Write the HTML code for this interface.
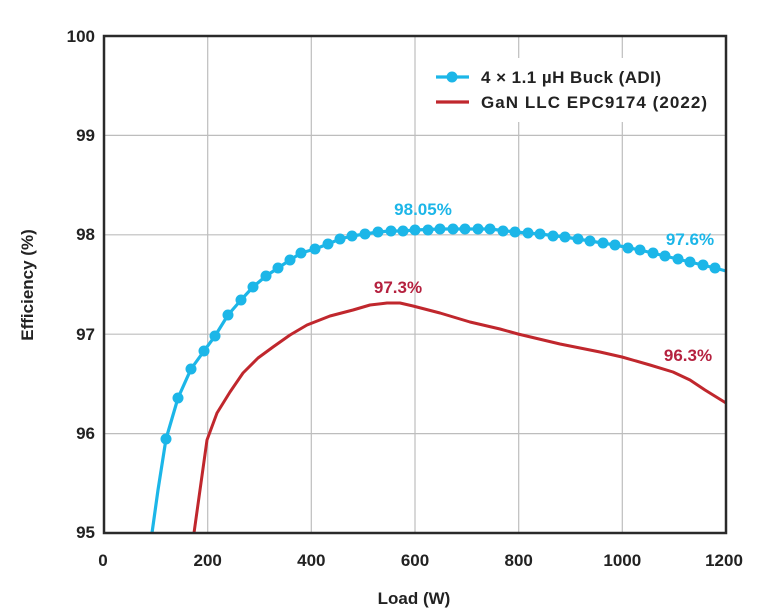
<!DOCTYPE html>
<html><head><meta charset="utf-8"><style>
html,body{margin:0;padding:0;background:#fff;}
svg{display:block;font-family:"Liberation Sans",sans-serif;font-weight:bold;}
</style></head><body>
<svg width="769" height="614" viewBox="0 0 769 614" xmlns="http://www.w3.org/2000/svg">
<rect width="769" height="614" fill="#fff"/>
<g stroke="#bdbdbd" stroke-width="1.2">
<line x1="207.7" y1="36" x2="207.7" y2="533"/>
<line x1="311.3" y1="36" x2="311.3" y2="533"/>
<line x1="415" y1="36" x2="415" y2="533"/>
<line x1="518.7" y1="36" x2="518.7" y2="533"/>
<line x1="622.3" y1="36" x2="622.3" y2="533"/>
<line x1="104" y1="135.4" x2="726" y2="135.4"/>
<line x1="104" y1="234.8" x2="726" y2="234.8"/>
<line x1="104" y1="334.2" x2="726" y2="334.2"/>
<line x1="104" y1="433.6" x2="726" y2="433.6"/>
</g>
<rect x="422" y="58" width="296" height="64" fill="#fff"/>
<path d="M194,533 L200,490 L207,440 L217,413 L230,392 L243,373 L258,358 L273,347 L290,335 L307,325 L330,316 L353,310 L370,305 L387,303 L400,303 L413,306 L440,313 L470,322 L500,329 L518,334 L560,344 L600,352 L622,357 L650,365 L673,372 L690,380 L705,390 L726,403" fill="none" stroke="#c0272d" stroke-width="3" stroke-linejoin="round"/>
<path d="M152,533 L158,490 L166,439 L178,398 L191,369 L204,351 L215,336 L228,315 L241,300 L253,287 L266,276 L278,268 L290,260 L301,253 L315,249 L328,244 L340,239 L352,236 L365,234 L378,232 L391,231 L403,231 L415,230 L440,229 L490,229 L515,232 L540,234 L565,237 L590,241 L615,245 L640,250 L665,256 L690,262 L715,268 L726,271" fill="none" stroke="#1cb6e8" stroke-width="3.2" stroke-linejoin="round"/>
<g fill="#1cb6e8">
<circle cx="166" cy="439" r="5.5"/><circle cx="178" cy="398" r="5.5"/><circle cx="191" cy="369" r="5.5"/><circle cx="204" cy="351" r="5.5"/><circle cx="215" cy="336" r="5.5"/><circle cx="228" cy="315" r="5.5"/><circle cx="241" cy="300" r="5.5"/><circle cx="253" cy="287" r="5.5"/><circle cx="266" cy="276" r="5.5"/><circle cx="278" cy="268" r="5.5"/><circle cx="290" cy="260" r="5.5"/><circle cx="301" cy="253" r="5.5"/><circle cx="315" cy="249" r="5.5"/><circle cx="328" cy="244" r="5.5"/><circle cx="340" cy="239" r="5.5"/><circle cx="352" cy="236" r="5.5"/><circle cx="365" cy="234" r="5.5"/><circle cx="378" cy="232" r="5.5"/><circle cx="391" cy="231" r="5.5"/><circle cx="403" cy="231" r="5.5"/><circle cx="415" cy="230" r="5.5"/><circle cx="428" cy="230" r="5.5"/><circle cx="440" cy="229" r="5.5"/><circle cx="453" cy="229" r="5.5"/><circle cx="465" cy="229" r="5.5"/><circle cx="478" cy="229" r="5.5"/><circle cx="490" cy="229" r="5.5"/><circle cx="503" cy="231" r="5.5"/><circle cx="515" cy="232" r="5.5"/><circle cx="528" cy="233" r="5.5"/><circle cx="540" cy="234" r="5.5"/><circle cx="553" cy="236" r="5.5"/><circle cx="565" cy="237" r="5.5"/><circle cx="578" cy="239" r="5.5"/><circle cx="590" cy="241" r="5.5"/><circle cx="603" cy="243" r="5.5"/><circle cx="615" cy="245" r="5.5"/><circle cx="628" cy="248" r="5.5"/><circle cx="640" cy="250" r="5.5"/><circle cx="653" cy="253" r="5.5"/><circle cx="665" cy="256" r="5.5"/><circle cx="678" cy="259" r="5.5"/><circle cx="690" cy="262" r="5.5"/><circle cx="703" cy="265" r="5.5"/><circle cx="715" cy="268" r="5.5"/>
</g>
<rect x="104" y="36" width="622" height="497" fill="none" stroke="#2a2a2a" stroke-width="2.5"/>
<line x1="436" y1="77" x2="469" y2="77" stroke="#1cb6e8" stroke-width="3.2"/>
<circle cx="452" cy="77" r="5.5" fill="#1cb6e8"/>
<line x1="436" y1="102" x2="469" y2="102" stroke="#c0272d" stroke-width="3.2"/>
<g font-size="17" fill="#222">
<text x="481" y="83" textLength="180">4 × 1.1 µH Buck (ADI)</text>
<text x="481" y="108" textLength="226">GaN LLC EPC9174 (2022)</text>
</g>
<g font-size="17" fill="#1cb6e8">
<text x="423" y="215" text-anchor="middle">98.05%</text>
<text x="690" y="245" text-anchor="middle">97.6%</text>
</g>
<g font-size="17" fill="#b5213f">
<text x="398" y="293" text-anchor="middle">97.3%</text>
<text x="688" y="361" text-anchor="middle">96.3%</text>
</g>
<g font-size="17" fill="#222" text-anchor="end">
<text x="95" y="42">100</text>
<text x="95" y="141">99</text>
<text x="95" y="240">98</text>
<text x="95" y="340">97</text>
<text x="95" y="439">96</text>
<text x="95" y="538">95</text>
</g>
<g font-size="17" fill="#222" text-anchor="middle">
<text x="103" y="566">0</text>
<text x="207.7" y="566">200</text>
<text x="311.3" y="566">400</text>
<text x="415" y="566">600</text>
<text x="518.7" y="566">800</text>
<text x="622.3" y="566">1000</text>
<text x="724" y="566">1200</text>
<text x="414" y="604">Load (W)</text>
</g>
<text x="0" y="0" font-size="17" fill="#222" text-anchor="middle" transform="translate(33,285) rotate(-90)">Efficiency (%)</text>
</svg>
</body></html>
